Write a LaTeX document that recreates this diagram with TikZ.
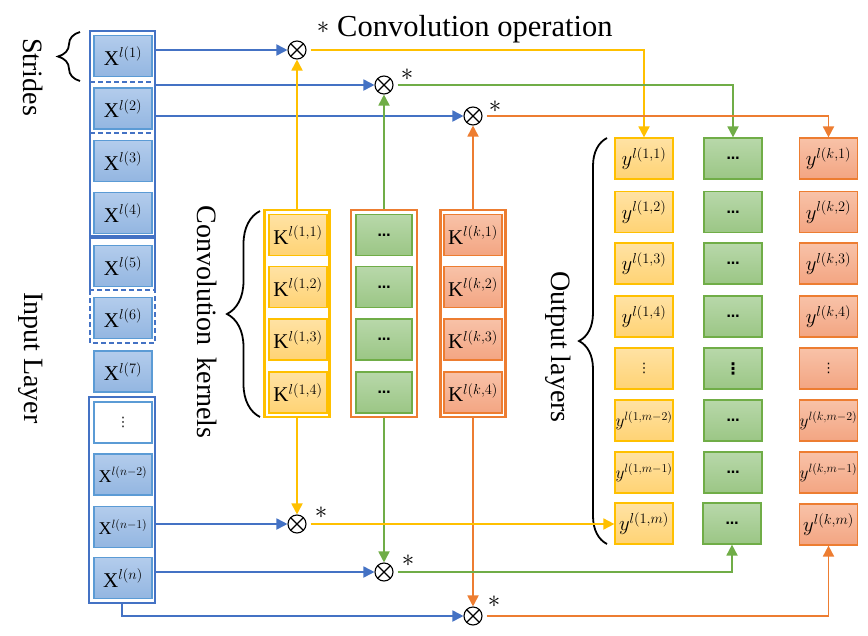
\documentclass[tikz,border=0pt]{standalone}
\usepackage{fontspec}
\setmainfont{Liberation Serif}
\newfontfamily\symfont{DejaVu Sans}
\usetikzlibrary{arrows.meta,decorations.pathreplacing}

\definecolor{bline}{HTML}{4472C4}
\definecolor{bbord}{HTML}{5B9BD5}
\definecolor{btop}{HTML}{B3CCEC}
\definecolor{bbot}{HTML}{93B6E1}
\definecolor{ybord}{HTML}{FFC000}
\definecolor{ytop}{HTML}{FFE2A4}
\definecolor{ybot}{HTML}{FFD374}
\definecolor{gbord}{HTML}{70AD47}
\definecolor{gtop}{HTML}{B8D8AA}
\definecolor{gbot}{HTML}{9BC685}
\definecolor{obord}{HTML}{ED7D31}
\definecolor{otop}{HTML}{F8C2A8}
\definecolor{obot}{HTML}{F3A582}

\newcommand{\fs}[1]{\fontsize{#1}{#1}\selectfont}
\newcommand{\gdots}{{\symfont\bfseries\fs{13}…}}
\newcommand{\gvdots}{{\symfont\bfseries\fs{16}⋮}}
\newcommand{\svdots}{{\symfont\fs{13}⋮}}
% base, superscript, superscript size
\newcommand{\lbl}[3]{$#1^{\mbox{\fs{#3}$#2$}}$}

\tikzset{
  cell/.style={rectangle, minimum width=58pt, minimum height=41pt, inner sep=0pt, line width=1.2pt, font=\fs{21}},
  bcell/.style={cell, draw=bbord, top color=btop, bottom color=bbot},
  ycell/.style={cell, draw=ybord, top color=ytop, bottom color=ybot},
  gcell/.style={cell, draw=gbord, top color=gtop, bottom color=gbot},
  ocell/.style={cell, draw=obord, top color=otop, bottom color=obot},
  kcol/.style={rectangle, inner sep=0pt, line width=2.2pt, minimum width=65pt, minimum height=207pt},
  otim/.style={circle, draw, line width=1.1pt, minimum size=18pt, inner sep=0pt,
    path picture={\draw[line width=1.1pt] (path picture bounding box.north west) -- (path picture bounding box.south east)
      (path picture bounding box.north east) -- (path picture bounding box.south west);}},
  conn/.style={line width=1.8pt, -{Triangle[length=11pt,width=11pt]}},
  lab/.style={font=\fs{28}, rotate=-90, inner sep=0pt},
  astk/.style={font=\fs{24}, inner sep=0pt},
  brc/.style={decorate, decoration={brace, amplitude=#1}, line width=1.8pt},
  rectline/.style={bline, line width=2.2pt}
}

\begin{document}
\begin{tikzpicture}[x=1pt,y=-1pt]
\useasboundingbox (0,0) rectangle (868,635);

% ---------- input layer ----------
\draw[rectline] (90,31) rectangle (155,236);
\draw[bline, line width=2pt, dash pattern=on 5pt off 3pt] (90,82) -- (155,82) (90,133) -- (155,133);
\draw[rectline] (90,290) -- (90,238) -- (155,238) -- (155,290);
\draw[bline, line width=2pt, dash pattern=on 5pt off 3pt] (90,290) rectangle (155,343);
\draw[rectline] (89,397) rectangle (155,603);

\node[bcell] (x1) at (123,56) {\lbl{\mathrm{X}}{l(1)}{15}};
\node[bcell] (x2) at (123,108.5) {\lbl{\mathrm{X}}{l(2)}{15}};
\node[bcell] (x3) at (123,161) {\lbl{\mathrm{X}}{l(3)}{15}};
\node[bcell] (x4) at (123,213) {\lbl{\mathrm{X}}{l(4)}{15}};
\node[bcell] (x5) at (123,266) {\lbl{\mathrm{X}}{l(5)}{15}};
\node[bcell] (x6) at (123,318) {\lbl{\mathrm{X}}{l(6)}{15}};
\node[bcell] (x7) at (123,371.5) {\lbl{\mathrm{X}}{l(7)}{15}};
\node[cell, draw=bbord, fill=white, line width=1.6pt] (x8) at (123,422.5) {\svdots};
\node[bcell, font=\fs{18}] (x9) at (123,474.5) {\lbl{\mathrm{X}}{l(n{-}2)}{12.5}};
\node[bcell, font=\fs{18}] (x10) at (123,527) {\lbl{\mathrm{X}}{l(n{-}1)}{12.5}};
\node[bcell] (x11) at (123,578) {\lbl{\mathrm{X}}{l(n)}{15}};

\coordinate (s1) at (155,50);
\coordinate (s2) at (155,85);
\coordinate (s3) at (155,116);
\coordinate (s4) at (155,524);
\coordinate (s5) at (155,572);
\coordinate (s6) at (122,603);

% ---------- labels and braces ----------
\node[lab] (strides) at (33,77) {Strides};
\node[lab] (inlayer) at (31,358) {Input Layer};
\node[lab] (convk) at (207,322) {Convolution\hspace{5pt} kernels};
\node[lab] (outl) at (558,347) {Output layers};
\node[astk] (a0) at (323,28) {$\ast$};
\node[font=\fs{30.5}, anchor=base west, inner sep=0pt] (convop) at (337,36) {Convolution operation};

\draw[brc=22pt] (80,81) -- (80,32);
\draw[brc=33pt] (260,417) -- (260,211);
\draw[brc=28pt] (607,544) -- (607,138);

% ---------- kernels ----------
\node[kcol, draw=ybord] (kc1) at (297,313.5) {};
\node[kcol, draw=obord, minimum width=66pt] (kc2) at (384,313.5) {};
\node[kcol, draw=obord] (kc3) at (473,313.5) {};

\node[ycell] (k11) at (298,235) {\lbl{\mathrm{K}}{l(1{,}1)}{15}};
\node[ycell] (k12) at (298,287) {\lbl{\mathrm{K}}{l(1{,}2)}{15}};
\node[ycell] (k13) at (298,339.5) {\lbl{\mathrm{K}}{l(1{,}3)}{15}};
\node[ycell] (k14) at (298,392.5) {\lbl{\mathrm{K}}{l(1{,}4)}{15}};
\node[gcell, minimum width=56pt] (k21) at (384,235) {\gdots};
\node[gcell, minimum width=56pt] (k22) at (384,287) {\gdots};
\node[gcell, minimum width=56pt] (k23) at (384,339.5) {\gdots};
\node[gcell, minimum width=56pt] (k24) at (384,392.5) {\gdots};
\node[ocell] (k31) at (473,235) {\lbl{\mathrm{K}}{l(k{,}1)}{15}};
\node[ocell] (k32) at (473,287) {\lbl{\mathrm{K}}{l(k{,}2)}{15}};
\node[ocell] (k33) at (473,339.5) {\lbl{\mathrm{K}}{l(k{,}3)}{15}};
\node[ocell] (k34) at (473,392.5) {\lbl{\mathrm{K}}{l(k{,}4)}{15}};

% ---------- convolution operators ----------
\node[otim] (o1) at (297,50) {};
\node[otim] (o2) at (384,85) {};
\node[otim] (o3) at (473,116) {};
\node[otim] (o4) at (297,524) {};
\node[otim] (o5) at (384,572) {};
\node[otim] (o6) at (473,616) {};
\node[astk] (a2) at (407,75) {$\ast$};
\node[astk] (a3) at (495,107) {$\ast$};
\node[astk] (a4) at (321,513) {$\ast$};
\node[astk] (a5) at (408,561) {$\ast$};
\node[astk] (a6) at (494,602) {$\ast$};

% ---------- outputs ----------
\node[ycell] (y1) at (644,158.5) {\lbl{y}{l(1{,}1)}{15}};
\node[ycell] (y2) at (644,212) {\lbl{y}{l(1{,}2)}{15}};
\node[ycell] (y3) at (644,263.5) {\lbl{y}{l(1{,}3)}{15}};
\node[ycell] (y4) at (644,316.5) {\lbl{y}{l(1{,}4)}{15}};
\node[ycell] (y5) at (644,368.5) {\svdots};
\node[ycell, font=\fs{17}] (y6) at (644,420.5) {\lbl{y}{l(1{,}m{-}2)}{12}};
\node[ycell, font=\fs{17}] (y7) at (644,472.5) {\lbl{y}{l(1{,}m{-}1)}{12}};
\node[ycell, font=\fs{20}] (y8) at (644,523.5) {\lbl{y}{l(1{,}m)}{13.5}};

\node[gcell] (g1) at (733,158.5) {\gdots};
\node[gcell] (g2) at (733,212) {\gdots};
\node[gcell] (g3) at (733,263.5) {\gdots};
\node[gcell] (g4) at (733,316.5) {\gdots};
\node[gcell] (g5) at (733,368.5) {\gvdots};
\node[gcell] (g6) at (733,420.5) {\gdots};
\node[gcell] (g7) at (733,472.5) {\gdots};
\node[gcell] (g8) at (732,523.5) {\gdots};

\node[ocell] (r1) at (828.5,158.5) {\lbl{y}{l(k{,}1)}{15}};
\node[ocell] (r2) at (828.5,212) {\lbl{y}{l(k{,}2)}{15}};
\node[ocell] (r3) at (828.5,263.5) {\lbl{y}{l(k{,}3)}{15}};
\node[ocell] (r4) at (828.5,316.5) {\lbl{y}{l(k{,}4)}{15}};
\node[ocell] (r5) at (828.5,368.5) {\svdots};
\node[ocell, font=\fs{17}] (r6) at (828.5,420.5) {\lbl{y}{l(k{,}m{-}2)}{12}};
\node[ocell, font=\fs{17}] (r7) at (828.5,472.5) {\lbl{y}{l(k{,}m{-}1)}{12}};
\node[ocell, font=\fs{20}] (r8) at (828.5,524.5) {\lbl{y}{l(k{,}m)}{13.5}};

% ---------- connectors ----------
\draw[conn, bline] (s1) -- (o1);
\draw[conn, bline] (s2) -- (o2);
\draw[conn, bline] (s3) -- (o3);
\draw[conn, bline] (s4) -- (o4);
\draw[conn, bline] (s5) -- (o5);
\draw[conn, bline] (s6) |- (o6);

\draw[conn, ybord] (kc1) -- (o1);
\draw[conn, ybord] (kc1) -- (o4);
\draw[conn, gbord] (kc2) -- (o2);
\draw[conn, gbord] (kc2) -- (o5);
\draw[conn, obord] (kc3) -- (o3);
\draw[conn, obord] (kc3) -- (o6);

\draw[conn, ybord, shorten <=4pt] (o1) -| (y1.north);
\draw[conn, gbord, shorten <=4pt] (o2) -| (g1.north);
\draw[conn, obord, shorten <=4pt] (o3) -| (r1.north);
\draw[conn, ybord, shorten <=4pt] (o4) -- (o4 -| y8.west);
\draw[conn, gbord, shorten <=4pt] (o5) -| (g8.south);
\draw[conn, obord, shorten <=4pt] (o6) -| (r8.south);
\end{tikzpicture}
\end{document}
